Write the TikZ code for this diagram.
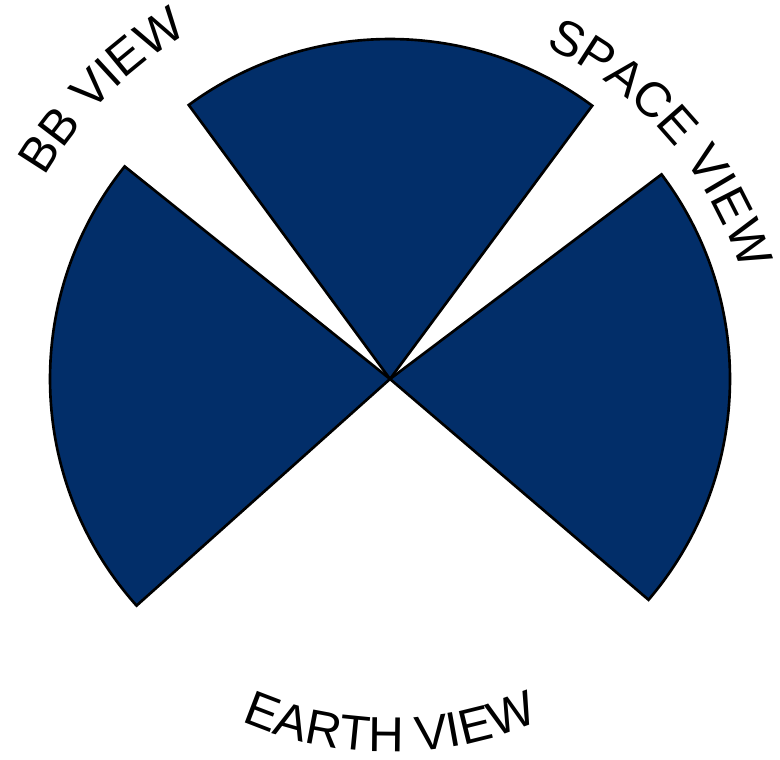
\documentclass[tikz,border=0pt]{standalone}
\usepackage{fontspec}
\setmainfont{Liberation Sans}
\usetikzlibrary{decorations.text}
\definecolor{viewblue}{RGB}{2,46,105}
\newcommand{\viewfont}{\fontsize{14}{16}\selectfont}
\tikzset{
  sector/.style={fill=viewblue,draw=black,line width=0.75pt,line join=miter},
  viewlabel/.style={decorate,decoration={text along path,text align=center,text={|\viewfont|#1}}}
}

\begin{document}
\begin{tikzpicture}[scale=1]
\useasboundingbox (-3.9,-3.8) rectangle (3.9,3.79);
\coordinate (c) at (0,0);
\foreach \a/\b in {53.5/126.3,141.3/221.8,-40.5/37}{
  \draw[sector] (c) -- (\a:3.4) arc[start angle=\a,end angle=\b,radius=3.4] -- cycle;
}
\path[viewlabel={BB VIEW}] (175:4.0) arc[start angle=175,end angle=95,radius=4.0];
\path[viewlabel={SPACE VIEW}] (86:3.67) arc[start angle=86,end angle=-4,radius=3.67];
\path[viewlabel={EARTH VIEW}] (-140:3.73) arc[start angle=-140,end angle=-40,radius=3.73];
\end{tikzpicture}
\end{document}
